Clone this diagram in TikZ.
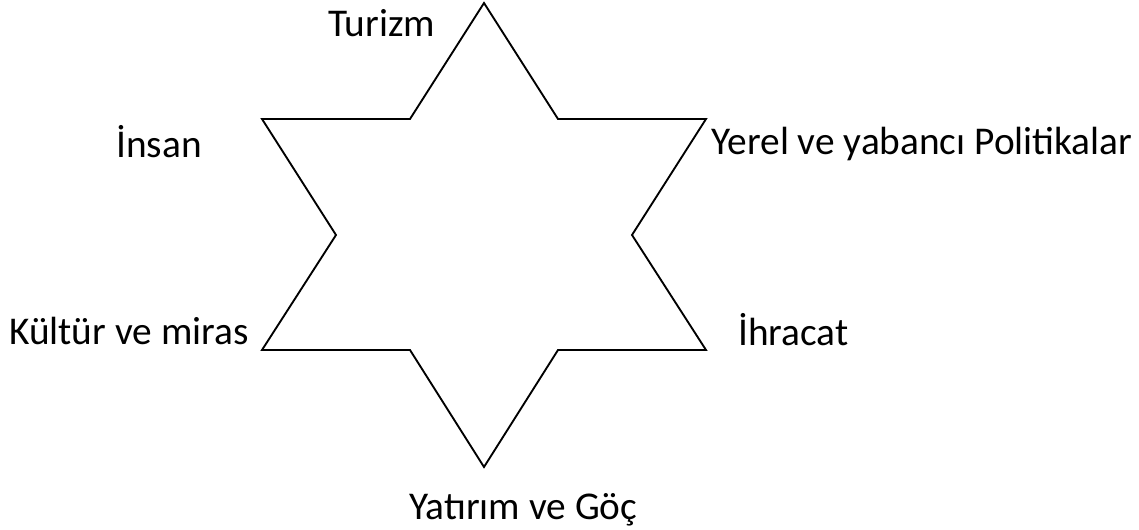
\documentclass[tikz,border=0pt]{standalone}
\usepackage{fontspec}
\setmainfont{Carlito}
\usepackage{xcolor}
\usepackage{tikz}
\usetikzlibrary{calc,positioning}
\definecolor{starLine}{RGB}{0,0,0}
\definecolor{lblText}{RGB}{0,0,0}

\begin{document}
\begin{tikzpicture}[x=0.75pt,y=-0.75pt,
  lbl/.style={text=lblText, inner sep=0pt, anchor=base west, font=\fontsize{29.5}{35}\selectfont}]
\useasboundingbox (0,0) rectangle (1139,530);
\draw[starLine, line width=1.4pt, line join=miter]
  (484,3)--(558,119)--(706,119)--(632,235)--(706,350)--(558,350)--(484,467)
  --(410,350)--(262,350)--(336,235)--(262,119)--(410,119)--cycle;
\node[lbl] (turizm) at (328,37) {Turizm};
\node[lbl] (insan) at (116,158) {İnsan};
\node[lbl] (politika) at (711,155) {Yerel ve yabancı Politikalar};
\node[lbl] (kultur) at (9,345) {Kültür ve miras};
\node[lbl] (ihracat) at (738,346) {İhracat};
\node[lbl] (yatirim) at (409,520) {Yatırım ve Göç};
\end{tikzpicture}
\end{document}
